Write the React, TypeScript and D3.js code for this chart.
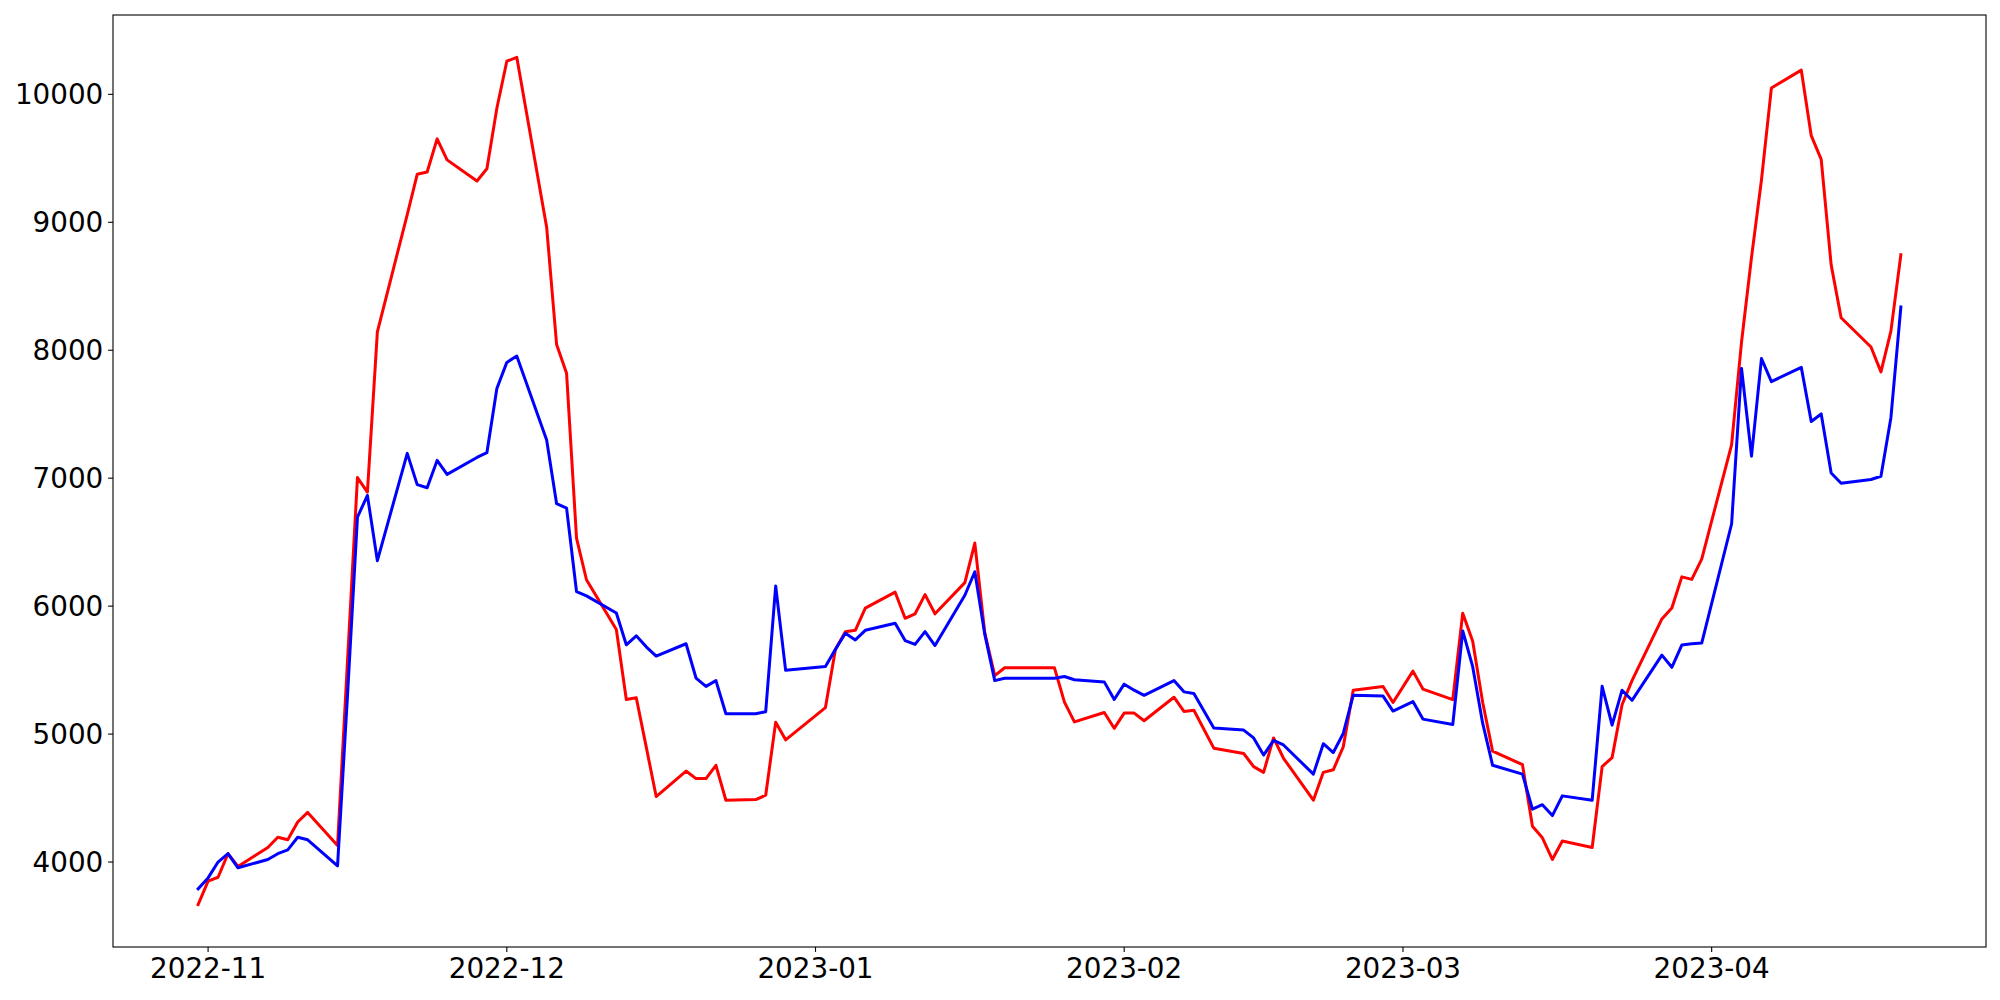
import { useEffect, useRef } from 'react';
import * as d3 from 'd3';

const dates = [
  '2022-10-31', '2022-11-01', '2022-11-02', '2022-11-03', '2022-11-04',
  '2022-11-07', '2022-11-08', '2022-11-09', '2022-11-10', '2022-11-11',
  '2022-11-14', '2022-11-15', '2022-11-16', '2022-11-17', '2022-11-18',
  '2022-11-21', '2022-11-22', '2022-11-23', '2022-11-24', '2022-11-25',
  '2022-11-28', '2022-11-29', '2022-11-30', '2022-12-01', '2022-12-02',
  '2022-12-05', '2022-12-06', '2022-12-07', '2022-12-08', '2022-12-09',
  '2022-12-12', '2022-12-13', '2022-12-14', '2022-12-15', '2022-12-16',
  '2022-12-19', '2022-12-20', '2022-12-21', '2022-12-22', '2022-12-23',
  '2022-12-26', '2022-12-27', '2022-12-28', '2022-12-29',
  '2023-01-02', '2023-01-03', '2023-01-04', '2023-01-05', '2023-01-06',
  '2023-01-09', '2023-01-10', '2023-01-11', '2023-01-12', '2023-01-13',
  '2023-01-16', '2023-01-17', '2023-01-18', '2023-01-19', '2023-01-20',
  '2023-01-23', '2023-01-24', '2023-01-25', '2023-01-26', '2023-01-27',
  '2023-01-30', '2023-01-31', '2023-02-01', '2023-02-02', '2023-02-03',
  '2023-02-06', '2023-02-07', '2023-02-08', '2023-02-10',
  '2023-02-13', '2023-02-14', '2023-02-15', '2023-02-16', '2023-02-17',
  '2023-02-20', '2023-02-21', '2023-02-22', '2023-02-23', '2023-02-24',
  '2023-02-27', '2023-02-28', '2023-03-02', '2023-03-03',
  '2023-03-06', '2023-03-07', '2023-03-08', '2023-03-09', '2023-03-10',
  '2023-03-13', '2023-03-14', '2023-03-15', '2023-03-16', '2023-03-17',
  '2023-03-20', '2023-03-21', '2023-03-22', '2023-03-23', '2023-03-24',
  '2023-03-27', '2023-03-28', '2023-03-29', '2023-03-30', '2023-03-31',
  '2023-04-03', '2023-04-04', '2023-04-05', '2023-04-06', '2023-04-07',
  '2023-04-10', '2023-04-11', '2023-04-12', '2023-04-13', '2023-04-14',
  '2023-04-17', '2023-04-18', '2023-04-19', '2023-04-20',
];

const redSeries = [
  3667, 3851, 3881, 4065, 3965,
  4114, 4194, 4174, 4313, 4388,
  4130, 5570, 7005, 6891, 8144,
  9060, 9375, 9393, 9652, 9488,
  9323, 9418, 9891, 10259, 10289,
  8962, 8045, 7821, 6532, 6206,
  5818, 5270, 5284, 4900, 4512,
  4711, 4652, 4652, 4756, 4483,
  4488, 4522, 5093, 4955,
  5207, 5662, 5800, 5811, 5985,
  6109, 5905, 5940, 6090, 5940,
  6184, 6493, 5791, 5457, 5518,
  5518, 5518, 5518, 5250, 5095,
  5169, 5045, 5164, 5164, 5104,
  5288, 5177, 5186, 4890,
  4848, 4746, 4701, 4970, 4811,
  4483, 4701, 4721, 4900, 5343,
  5372, 5247, 5492, 5352,
  5269, 5945, 5726, 5249, 4866,
  4761, 4279, 4189, 4020, 4164,
  4114, 4746, 4816, 5229, 5418,
  5900, 5985, 6229, 6209, 6368,
  7260, 8065, 8725, 9330, 10050,
  10189, 9677, 9492, 8667, 8254,
  8025, 7831, 8149, 8746,
];

const blueSeries = [
  3791, 3876, 4000, 4065, 3955,
  4020, 4065, 4095, 4194, 4174,
  3970, 5300, 6696, 6865, 6355,
  7194, 6950, 6925, 7139, 7030,
  7162, 7199, 7701, 7905, 7955,
  7299, 6801, 6766, 6114, 6080,
  5946, 5698, 5768, 5682, 5610,
  5706, 5438, 5373, 5418, 5159,
  5159, 5175, 6157, 5498,
  5529, 5662, 5788, 5736, 5811,
  5866, 5731, 5701, 5801, 5692,
  6085, 6269, 5781, 5418, 5437,
  5437, 5437, 5437, 5450, 5425,
  5408, 5270, 5390, 5343, 5303,
  5418, 5330, 5318, 5048,
  5031, 4970, 4836, 4950, 4915,
  4687, 4925, 4856, 5005, 5303,
  5297, 5180, 5254, 5117,
  5075, 5806, 5527, 5085, 4756,
  4687, 4413, 4448, 4363, 4517,
  4483, 5373, 5070, 5343, 5264,
  5617, 5522, 5696, 5706, 5711,
  6642, 7858, 7172, 7935, 7755,
  7866, 7443, 7502, 7040, 6960,
  6990, 7015, 7473, 8338,
];

const yTicks = [4000, 5000, 6000, 7000, 8000, 9000, 10000];

export default function App() {
  const svgRef = useRef<SVGSVGElement>(null);

  useEffect(() => {
    document.body.style.margin = '0';
    if (!svgRef.current) return;

    const W = 2000;
    const H = 1000;
    const margin = { top: 15, right: 14, bottom: 53, left: 113 };
    const iw = W - margin.left - margin.right;
    const ih = H - margin.top - margin.bottom;
    const font = 'DejaVu Sans, sans-serif';
    const fs = 27.8;

    const parse = d3.timeParse('%Y-%m-%d');
    const xs = dates.map(d => parse(d) as Date);

    const [x0, x1] = d3.extent(xs) as [Date, Date];
    const xpad = (x1.getTime() - x0.getTime()) * 0.05;
    const x = d3.scaleTime()
      .domain([new Date(x0.getTime() - xpad), new Date(x1.getTime() + xpad)])
      .range([0, iw]);

    const all = redSeries.concat(blueSeries);
    const ymin = d3.min(all) as number;
    const ymax = d3.max(all) as number;
    const ypad = (ymax - ymin) * 0.05;
    const y = d3.scaleLinear().domain([ymin - ypad, ymax + ypad]).range([ih, 0]);

    const svg = d3.select(svgRef.current);
    svg.selectAll('*').remove();
    svg.attr('width', W).attr('height', H);

    svg.append('rect').attr('width', W).attr('height', H).attr('fill', '#fff');

    const g = svg.append('g').attr('transform', `translate(${margin.left},${margin.top})`);

    const line = d3.line<number>()
      .x((_, i) => x(xs[i]))
      .y(v => y(v));

    // series
    g.append('path').datum(redSeries)
      .attr('d', line).attr('fill', 'none')
      .attr('stroke', '#ff0000').attr('stroke-width', 3)
      .attr('stroke-linejoin', 'round').attr('stroke-linecap', 'square');
    g.append('path').datum(blueSeries)
      .attr('d', line).attr('fill', 'none')
      .attr('stroke', '#0000ff').attr('stroke-width', 3)
      .attr('stroke-linejoin', 'round').attr('stroke-linecap', 'square');

    // frame
    g.append('rect')
      .attr('width', iw).attr('height', ih)
      .attr('fill', 'none').attr('stroke', '#000').attr('stroke-width', 1.1);

    // x axis
    const months = d3.timeMonths(d3.timeMonth.ceil(x.domain()[0]), x.domain()[1]);
    const fmt = d3.timeFormat('%Y-%m');
    const xg = g.append('g').attr('transform', `translate(0,${ih})`);
    xg.selectAll('line').data(months).join('line')
      .attr('x1', d => x(d)).attr('x2', d => x(d))
      .attr('y1', 0).attr('y2', 4.9)
      .attr('stroke', '#000').attr('stroke-width', 1.1);
    xg.selectAll('text').data(months).join('text')
      .attr('x', d => x(d)).attr('y', 9.7)
      .attr('dy', '0.76em')
      .attr('text-anchor', 'middle')
      .attr('font-family', font).attr('font-size', fs).attr('fill', '#000')
      .text(d => fmt(d));

    // y axis
    const yg = g.append('g');
    yg.selectAll('line').data(yTicks).join('line')
      .attr('x1', -4.9).attr('x2', 0)
      .attr('y1', d => y(d)).attr('y2', d => y(d))
      .attr('stroke', '#000').attr('stroke-width', 1.1);
    yg.selectAll('text').data(yTicks).join('text')
      .attr('x', -9.7).attr('y', d => y(d))
      .attr('dy', '0.36em')
      .attr('text-anchor', 'end')
      .attr('font-family', font).attr('font-size', fs).attr('fill', '#000')
      .text(d => String(d));
  }, []);

  return (
    <div>
      <svg ref={svgRef} style={{ display: 'block' }} />
    </div>
  );
}
